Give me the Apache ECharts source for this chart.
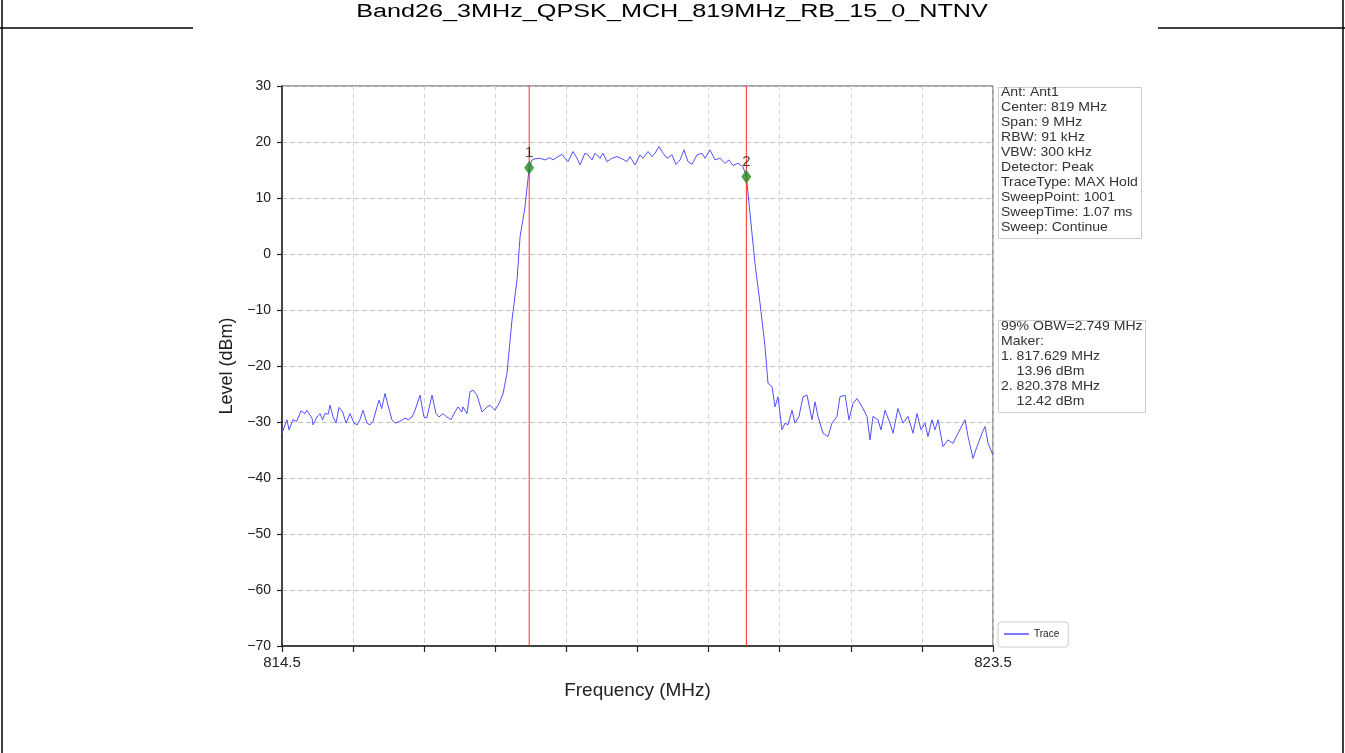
<!DOCTYPE html>
<html>
<head>
<meta charset="utf-8">
<script src="https://cdn.jsdelivr.net/npm/echarts@6/dist/echarts.min.js"></script>
<style>
html,body{margin:0;padding:0;background:#fff;}
#c{width:1345px;height:753px;}
</style>
</head>
<body>
<div id="c"></div>
<script>
const titleText = 'Band26_3MHz_QPSK_MCH_819MHz_RB_15_0_NTNV';
const xTickLabels = ['814.5', '823.5'];
const freq = [
814.500,814.563,814.589,814.639,814.686,814.740,814.791,814.813,814.880,814.892,
814.943,814.981,815.015,815.044,815.086,815.108,815.146,815.184,815.222,815.268,
815.310,815.361,815.411,815.453,815.487,815.525,815.576,815.614,815.652,815.703,
815.728,815.762,815.804,815.842,815.892,815.930,815.994,816.057,816.099,816.146,
816.184,816.247,816.297,816.332,816.399,816.449,816.487,816.538,816.585,816.639,
816.690,816.728,816.775,816.790,816.842,816.880,816.918,816.968,817.032,817.095,
817.133,817.196,817.247,817.297,817.348,817.411,817.475,817.513,817.576,817.629,
817.665,817.703,817.766,817.829,817.892,817.930,817.994,818.044,818.082,818.120,
818.184,818.234,818.272,818.335,818.373,818.424,818.462,818.525,818.563,818.614,
818.677,818.741,818.804,818.867,818.905,818.968,819.032,819.070,819.133,819.184,
819.222,819.272,819.323,819.373,819.437,819.487,819.538,819.589,819.639,819.690,
819.753,819.816,819.854,819.918,819.981,820.044,820.108,820.158,820.209,820.272,
820.335,820.378,820.424,820.487,820.551,820.614,820.652,820.703,820.741,820.778,
820.829,820.867,820.905,820.956,820.994,821.044,821.095,821.146,821.209,821.247,
821.285,821.348,821.411,821.462,821.525,821.563,821.627,821.677,821.728,821.778,
821.842,821.905,821.943,821.981,822.044,822.082,822.133,822.196,822.234,822.297,
822.361,822.424,822.487,822.538,822.589,822.639,822.677,822.728,822.766,822.804,
822.867,822.930,822.994,823.057,823.146,823.184,823.247,823.297,823.361,823.399,
823.437,823.500
];
const level = [
-32.0,-29.6,-31.4,-29.6,-29.9,-28.0,-28.5,-27.9,-29.3,-30.5,
-29.1,-28.5,-29.6,-28.5,-28.6,-27.0,-29.1,-30.2,-27.4,-28.2,
-30.2,-28.5,-30.2,-30.5,-29.6,-27.9,-30.2,-30.5,-29.9,-27.3,
-26.1,-27.6,-24.9,-27.0,-29.6,-30.2,-29.9,-29.3,-29.6,-29.1,
-27.9,-25.2,-29.1,-29.3,-25.2,-28.5,-29.1,-28.5,-29.1,-29.6,
-28.2,-27.3,-28.2,-27.3,-28.5,-24.6,-24.3,-25.2,-28.2,-27.3,
-27.0,-27.9,-26.7,-25.0,-21.3,-11.8,-4.6,3.0,8.4,15.4,
16.8,17.0,17.1,16.8,17.2,16.8,17.4,17.8,17.1,16.5,
18.3,17.1,15.9,18.0,17.7,16.8,18.0,17.1,18.0,16.5,
17.1,17.4,17.0,16.5,17.4,15.9,17.7,17.1,18.3,17.4,
18.0,19.2,18.0,17.1,17.7,16.0,16.8,18.6,16.5,16.0,
17.7,18.0,17.1,18.6,16.8,17.1,16.2,16.8,15.8,16.2,
15.6,13.8,7.3,-1.7,-8.8,-16.5,-23.1,-23.7,-27.3,-25.5,
-31.4,-30.2,-30.5,-27.9,-30.2,-29.0,-25.5,-25.2,-29.6,-26.4,
-29.0,-32.0,-32.6,-30.2,-29.0,-25.5,-25.2,-29.6,-26.7,-25.8,
-27.3,-29.0,-33.2,-29.0,-29.6,-31.4,-27.9,-30.2,-32.0,-27.6,
-30.2,-29.0,-32.0,-28.5,-31.4,-30.2,-32.6,-29.6,-31.4,-29.6,
-34.4,-33.2,-33.8,-32.0,-29.6,-32.6,-36.5,-34.4,-32.0,-30.8,
-33.8,-35.9
];
const markerNames = ['1', '2'];
const markerFreq = [817.629, 820.378];
const markerLevel = [15.4, 13.8];
const yRange = [-70, 30];
const infoLines = ['Ant: Ant1','Center: 819 MHz','Span: 9 MHz','RBW: 91 kHz','VBW: 300 kHz','Detector: Peak','TraceType: MAX Hold','SweepPoint: 1001','SweepTime: 1.07 ms','Sweep: Continue'];
const obwLines = ['99% OBW=2.749 MHz','Maker:','1. 817.629 MHz','    13.96 dBm','2. 820.378 MHz','    12.42 dBm'];

const FONT = '"Liberation Sans", Arial, sans-serif';
const chart = echarts.init(document.getElementById('c'), null, {renderer: 'canvas'});

const traceData = freq.map((f, i) => [f, level[i]]);
const markerData = markerFreq.map((f, i) => ({value: [f, markerLevel[i]], name: markerNames[i]}));

function textLines(lines, x, y) {
  return lines.map((t, i) => ({
    type: 'text', x: x, y: y + i * 15, silent: true, scaleX: 1.08,
    style: {text: t, font: '13px ' + FONT, fill: '#333', textVerticalAlign: 'top'}
  }));
}

const redLineSeries = markerFreq.map((f, i) => ({
  name: 'M' + (i + 1), type: 'line', data: [[f, yRange[0]], [f, yRange[1]]],
  showSymbol: false, symbol: 'none', silent: true, z: 4,
  lineStyle: {color: '#ff2a2a', width: 1}, itemStyle: {color: '#ff2a2a'}
}));

const option = {
  backgroundColor: '#fff',
  animation: false,
  grid: {left: 282, right: 352, top: 86, bottom: 107, show: true, borderColor: '#444', borderWidth: 1, backgroundColor: 'transparent'},
  legend: {
    data: ['Trace'], left: 998, top: 622, orient: 'vertical',
    icon: 'rect', itemWidth: 25, itemHeight: 1.5, itemGap: 4,
    padding: [7, 9, 8, 6], borderColor: '#ccc', borderWidth: 1, borderRadius: 3,
    backgroundColor: '#fff',
    textStyle: {fontFamily: FONT, fontSize: 10, color: '#222'}
  },
  xAxis: {
    type: 'value', min: 814.5, max: 823.5, interval: 0.9,
    name: 'Frequency (MHz)', nameLocation: 'middle', nameGap: 35,
    nameTextStyle: {fontFamily: FONT, fontSize: 19, color: '#222'},
    axisLine: {show: true, onZero: false, lineStyle: {color: '#222', width: 1.5}},
    axisTick: {show: true, inside: false, length: 6, lineStyle: {color: '#222', width: 1.2}},
    axisLabel: {
      fontFamily: FONT, fontSize: 15, color: '#222', margin: 9,
      showMinLabel: true, showMaxLabel: true,
      formatter: v => { const s = v.toFixed(1); return xTickLabels.indexOf(s) >= 0 ? s : ''; }
    },
    splitLine: {show: true, lineStyle: {color: '#d4d4d4', type: [5, 3], width: 1}}
  },
  yAxis: {
    type: 'value', min: yRange[0], max: yRange[1], interval: 10,
    name: 'Level (dBm)', nameLocation: 'middle', nameGap: 40,
    nameTextStyle: {fontFamily: FONT, fontSize: 18, color: '#222'},
    axisLine: {show: true, onZero: false, lineStyle: {color: '#222', width: 1.5}},
    axisTick: {show: true, inside: false, length: 5, lineStyle: {color: '#222', width: 1.2}},
    axisLabel: {fontFamily: FONT, fontSize: 14, color: '#222', margin: 11,
      formatter: v => String(v).replace('-', '\u2212')},
    splitLine: {show: true, lineStyle: {color: '#c4c4c4', type: [5, 3], width: 1}}
  },
  series: [
    {
      name: 'Trace', type: 'line', data: traceData, showSymbol: false, symbol: 'none',
      lineStyle: {color: '#5050ff', width: 1}, itemStyle: {color: '#5050ff'}, z: 3
    },
    ...redLineSeries,
    {
      name: 'Markers', type: 'scatter', data: markerData, symbol: 'diamond', symbolSize: [10, 14],
      itemStyle: {color: '#1e8c1e'}, z: 5,
      label: {show: true, position: 'top', distance: 0, formatter: p => p.name,
        fontFamily: FONT, fontSize: 15, color: '#111'}
    }
  ],
  graphic: [
    {type: 'line', silent: true, shape: {x1: 2, y1: 0, x2: 2, y2: 753}, style: {stroke: '#000', lineWidth: 1.5}},
    {type: 'line', silent: true, shape: {x1: 1343, y1: 0, x2: 1343, y2: 753}, style: {stroke: '#000', lineWidth: 1.5}},
    {type: 'line', silent: true, shape: {x1: 0, y1: 28, x2: 193, y2: 28}, style: {stroke: '#000', lineWidth: 1.5}},
    {type: 'line', silent: true, shape: {x1: 1158, y1: 28, x2: 1345, y2: 28}, style: {stroke: '#000', lineWidth: 1.5}},
    {type: 'text', silent: true, x: 672, y: 3, scaleX: 1.40, originX: 0, originY: 0,
      style: {text: titleText, font: '18px ' + FONT, fill: '#000', textAlign: 'center', textVerticalAlign: 'top'}},
    {type: 'rect', silent: true, left: 998, top: 87, shape: {x: 0, y: 0, width: 143, height: 151},
      style: {fill: '#fff', stroke: '#ccc', lineWidth: 1}},
    {type: 'rect', silent: true, left: 998, top: 320, shape: {x: 0, y: 0, width: 147, height: 92},
      style: {fill: '#fff', stroke: '#ccc', lineWidth: 1}},
    ...textLines(infoLines, 1001, 86),
    ...textLines(obwLines, 1001, 320)
  ]
};
chart.setOption(option);
</script>
</body>
</html>
